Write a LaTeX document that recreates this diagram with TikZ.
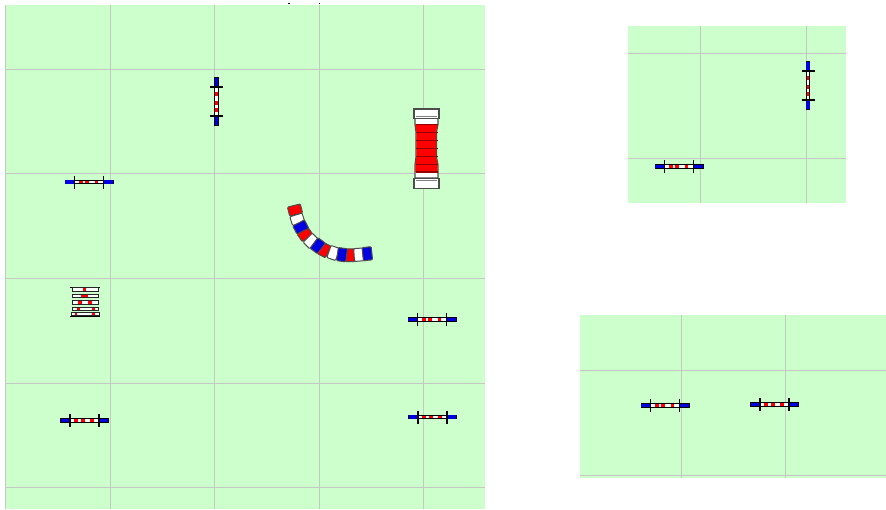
\documentclass[tikz,border=0pt]{standalone}
\definecolor{turf}{HTML}{CCFFCC}
\definecolor{gridc}{HTML}{C4C8C4}
\definecolor{jblue}{HTML}{0000E0}
\definecolor{jred}{HTML}{FF0000}
\definecolor{dred}{HTML}{900000}
\tikzset{
  panel/.style={fill=turf,draw=none},
  gridline/.style={draw=gridc,line width=0.95pt},
  barred/.style={fill=jred,draw=none},
  tick/.style={draw=black,line width=1.3pt},
  tunnelseg/.style={draw=black!70,line width=1pt,rounded corners=1pt},
  capseg/.style={draw=black!70,fill=white,line width=1.2pt},
  rung/.style={draw=black!85,fill=white,line width=0.9pt},
}
\newcommand{\jumpbar}[3]{%
  \begin{scope}[shift={(#1,#2)},rotate=#3]
    \fill[black] (-24.5,-2.4) rectangle (24.5,2.4);
    \fill[white] (-14.5,-1.4) rectangle (14.5,1.4);
    \fill[barred] (-10.5,-1.4) rectangle (-6.5,1.4);
    \fill[barred] (-3.8,-1.4) rectangle (0.2,1.4);
    \fill[barred] (5.5,-1.4) rectangle (9.3,1.4);
    \fill[jblue] (-23.7,-1.6) rectangle (-14.5,1.6);
    \fill[jblue] (14.5,-1.6) rectangle (23.7,1.6);
    \draw[tick] (-14.5,-6.5) -- (-14.5,6.5);
    \draw[tick] (14.5,-6.5) -- (14.5,6.5);
  \end{scope}}
\begin{document}
\begin{tikzpicture}[x=1pt,y=-1pt]
\useasboundingbox (0,0) rectangle (886,509);
% main field
\fill[panel] (5,5) rectangle (485,509);
\draw[gridline] (5,5) -- (5,509);
\foreach \v in {110,214.5,319.5,423.5} \draw[gridline] (\v,5) -- (\v,509);
\foreach \h in {69,173.5,278,383,487.5} \draw[gridline] (5,\h) -- (485,\h);
\draw[black,line width=0.8pt] (288,3.6) -- (289.5,3.6) (318.5,3.6) -- (320,3.6);
% top-right field
\fill[panel] (628,26) rectangle (846,203);
\foreach \v in {700,806.5} \draw[gridline] (\v,26) -- (\v,203);
\foreach \h in {53,158} \draw[gridline] (628,\h) -- (846,\h);
% bottom-right field
\fill[panel] (580,315) rectangle (886,477.5);
\foreach \v in {681,785} \draw[gridline] (\v,315) -- (\v,477.5);
\foreach \h in {370,475} \draw[gridline] (580,\h) -- (886,\h);
% jumps
\jumpbar{89}{182}{0}
\jumpbar{216.5}{101.5}{90}
\jumpbar{432}{319.5}{0}
\jumpbar{84.5}{420.5}{0}
\jumpbar{432.5}{417}{0}
\jumpbar{808}{85.5}{90}
\jumpbar{679}{166.5}{0}
\jumpbar{665}{405.5}{0}
\jumpbar{774.5}{404.5}{0}
% straight tunnel
\draw[capseg] (415,118) -- (415,124) -- (416,132) -- (416,157) -- (415,165) -- (415,178) -- (438,178) -- (438,165) -- (436.5,157) -- (436.5,132) -- (438,124) -- (438,118) -- cycle;
\fill[jred] (415.4,124) -- (416.4,132) -- (416.4,157) -- (415.4,165) -- (415.4,172) -- (437.6,172) -- (437.6,165) -- (436.1,157) -- (436.1,132) -- (437.6,124) -- cycle;
\foreach \h in {124.3,132.7,140.7,148.7,156.7,164.3,172} \draw[dred,line width=1.2pt] (415.5,\h) -- (437.5,\h);
\draw[capseg] (414,109) rectangle (439,118.5);
\draw[capseg] (414,178.5) rectangle (439,188.5);
\draw[gray,line width=1pt] (416,116.6) -- (437,116.6) (416,180.6) -- (437,180.6);
% curved tunnel
\foreach \x/\y/\a/\c in {297.3/219.3/72/white,305/234.3/55/jred,311/241/45/white,324.3/250/28/jred,333.3/253/19/white,350/255.3/0/jred,358.7/254.7/-4/white}
  \draw[tunnelseg,fill=\c,shift={(\x,\y)},rotate=-\a] (-4.6,-6.4) rectangle (4.6,6.4);
\foreach \x/\y/\a/\c in {295/210/76/jred,300.7/227/63/jblue,317.7/245.7/37/jblue,342/254.7/8/jblue,367.3/253.7/-6/jblue}
  \draw[tunnelseg,fill=\c,shift={(\x,\y)},rotate=-\a] (-4.6,-6.6) rectangle (4.6,6.6);
% ladder
\draw[black,line width=1pt] (69.5,287) -- (100,287) (70,316) -- (99.5,316);
\draw[rung] (72,287.6) rectangle (98,291.6);
\draw[rung] (72,294.4) rectangle (98,297.8);
\draw[rung] (72,300.8) rectangle (98,304.4);
\draw[rung] (72,307) rectangle (98,310.6);
\draw[rung] (71,312.6) rectangle (99,315.8);
\fill[jred] (83,288.2) rectangle (86,291);
\fill[jred] (81,295) rectangle (88,297.2);
\fill[jred] (78,301.4) rectangle (82,303.8);
\fill[jred] (88,301.4) rectangle (92,303.8);
\fill[jred] (76.5,307.6) rectangle (79.5,310);
\fill[jred] (91.5,307.6) rectangle (94.5,310);
\fill[jred] (74.5,313.2) rectangle (77,315.2);
\fill[jred] (92,313.2) rectangle (95,315.2);
\end{tikzpicture}
\end{document}
